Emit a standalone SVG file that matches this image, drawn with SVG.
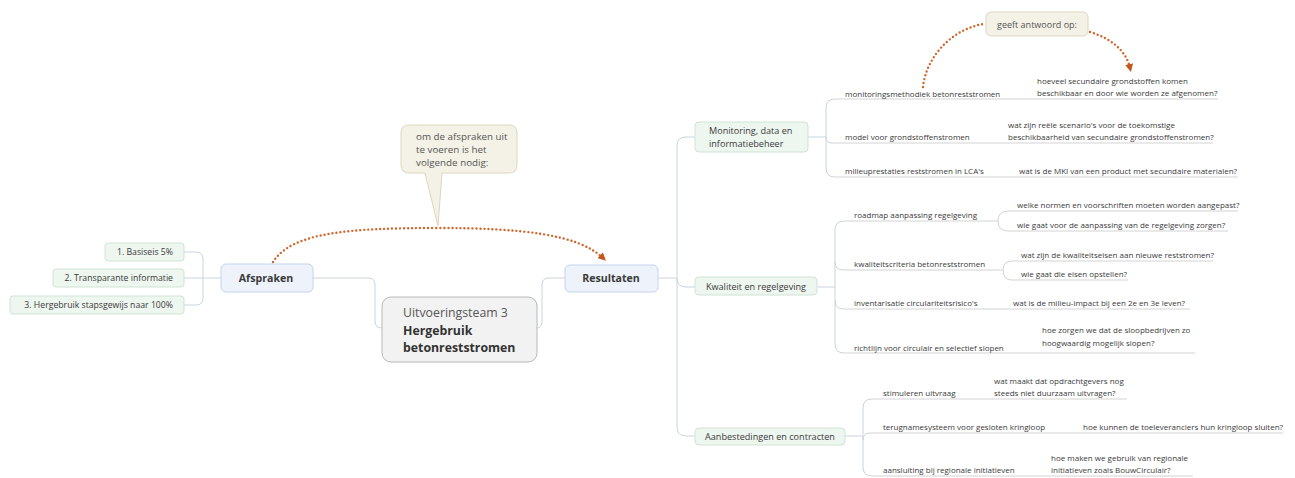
<svg xmlns="http://www.w3.org/2000/svg" width="1295" height="478" viewBox="0 0 1295 478">
<defs>
<marker id="arr" markerWidth="8" markerHeight="8" refX="4" refY="4" orient="auto" markerUnits="userSpaceOnUse">
<path d="M0,0 L8,4 L0,8 Z" fill="#c4561c"/>
</marker>
<style>
text{font-family:"Open Sans","Noto Sans",sans-serif;fill:#3a3a3a}
.s{font-size:8px}
.l{font-size:8.7px}
.m{font-size:9.1px}
.b{font-size:10.6px;font-weight:bold}
.c{font-size:9.8px;fill:#555}
.con{fill:none;stroke:#c9d4dc;stroke-width:1}
.ul{fill:none;stroke:#d3d3d3;stroke-width:1}
.dot{fill:none;stroke:#d0652a;stroke-width:2.4;stroke-dasharray:0 4;stroke-linecap:round}
.blue{fill:#eef3fb;stroke:#c4d3e8;stroke-width:1}
.green{fill:#eef6f0;stroke:#d0e3d5;stroke-width:1}
.call{fill:#f4f2e6;stroke:#dcd7bd;stroke-width:1}
</style>
</defs>
<rect width="1295" height="478" fill="#ffffff"/>
<g id="connectors">
<path class="con" d="M184,278 H221 M184,252 H196 Q203,252 203,259 V298 Q203,305 196,305 H184"/>
<path class="con" d="M313,278 H368 Q375,278 375,285 V321 Q375,328 382,328"/>
<path class="con" d="M537,328 Q542,328 542,321 V285 Q542,278 549,278 H565"/>
<path class="con" d="M658,278 H677 M695,137 H686 Q677,137 677,146 V427 Q677,436 686,436 H695 M677,278 Q677,287 686,287 H695"/>
<path class="con" d="M808,137 H826 M835,99 Q826,99 826,108 V168 Q826,177 835,177 M826,137 Q826,143 832,143"/>
<path class="ul" d="M835,99 H1218 M832,143 H1213 M835,177 H1238"/>
<path class="con" d="M817,287 H835 M844,221 Q835,221 835,230 V344 Q835,353 844,353 M835,262 Q835,270 843,270 M835,300 Q835,309 843,309"/>
<path class="ul" d="M844,221 H998 M1008,211 Q998,211 998,221 Q998,231 1008,231 M1008,211 H1238 M1008,231 H1228"/>
<path class="ul" d="M843,270 H1003 M1012,261 Q1003,261 1003,270 Q1003,280 1012,280 M1012,261 H1213 M1012,280 H1128"/>
<path class="ul" d="M843,309 H1190 M844,353 H1195"/>
<path class="con" d="M845,436 H863 M872,399 Q863,399 863,408 V467 Q863,476 872,476 M863,440 Q863,433 870,433"/>
<path class="ul" d="M872,399 H1127 M870,433 H1283 M872,476 H1193"/>
<path class="dot" d="M273,262 C292,232 350,228 438,228 C520,228 578,234 603,258" marker-end="url(#arr)"/>
<path class="dot" d="M923,87 C926,58 950,30 983,24"/>
<path class="dot" d="M1090,32 C1110,38 1126,50 1130,68" marker-end="url(#arr)"/>
</g>
<g id="n-central">
<rect x="382" y="297" width="155" height="65" rx="9" fill="#f2f2f2" stroke="#b8b8b8"/>
<text x="403" y="317" style="font-size:12.3px;fill:#555">Uitvoeringsteam 3</text>
<text x="403" y="335" style="font-size:12.3px;font-weight:bold;fill:#333">Hergebruik</text>
<text x="403" y="352" style="font-size:12.3px;font-weight:bold;fill:#333">betonreststromen</text>
</g>
<g id="n-afspraken">
<rect class="blue" x="221" y="264" width="92" height="28" rx="5"/>
<text class="b" x="266" y="282" text-anchor="middle">Afspraken</text>
</g>
<g id="n-resultaten">
<rect class="blue" x="565" y="265" width="93" height="27" rx="5"/>
<text class="b" x="611" y="282" text-anchor="middle">Resultaten</text>
</g>
<g id="n-a1">
<rect class="green" x="105" y="243" width="79" height="18" rx="3"/>
<text class="l" x="173" y="255" text-anchor="end">1. Basiseis 5%</text>
</g>
<g id="n-a2">
<rect class="green" x="53" y="269" width="131" height="18" rx="3"/>
<text class="l" x="173" y="281" text-anchor="end">2. Transparante informatie</text>
</g>
<g id="n-a3">
<rect class="green" x="10" y="296" width="174" height="18" rx="3"/>
<text class="l" x="173" y="308" text-anchor="end">3. Hergebruik stapsgewijs naar 100%</text>
</g>
<g id="callout-1">
<path class="call" d="M409,125 H509 Q517,125 517,133 V165 Q517,173 509,173 H442 L438,226 L425,173 H409 Q401,173 401,165 V133 Q401,125 409,125 Z"/>
<text class="c" x="416" y="140">om de afspraken uit</text>
<text class="c" x="416" y="153">te voeren is het</text>
<text class="c" x="416" y="166">volgende nodig:</text>
</g>
<g id="callout-2">
<rect class="call" x="986" y="12" width="102" height="24" rx="5"/>
<text class="c" x="1037" y="28" text-anchor="middle" style="font-size:9px">geeft antwoord op:</text>
</g>
<g id="n-monitoring">
<rect class="green" x="695" y="122" width="113" height="30" rx="4"/>
<text class="m" x="709" y="134">Monitoring, data en</text>
<text class="m" x="709" y="147">informatiebeheer</text>
</g>
<g id="n-kwaliteit">
<rect class="green" x="695" y="277" width="122" height="18" rx="4"/>
<text class="m" x="756" y="290" text-anchor="middle">Kwaliteit en regelgeving</text>
</g>
<g id="n-aanbesteding">
<rect class="green" x="695" y="428" width="150" height="17" rx="4"/>
<text class="m" x="770" y="440" text-anchor="middle">Aanbestedingen en contracten</text>
</g>
<g id="n-m1"><text class="s" x="845" y="97">monitoringsmethodiek betonreststromen</text></g>
<g id="n-m1a"><text class="s" x="1037" y="84">hoeveel secundaire grondstoffen komen</text><text class="s" x="1037" y="96">beschikbaar en door wie worden ze afgenomen?</text></g>
<g id="n-m2"><text class="s" x="845" y="140">model voor grondstoffenstromen</text></g>
<g id="n-m2a"><text class="s" x="1008" y="128">wat zijn reële scenario's voor de toekomstige</text><text class="s" x="1008" y="140">beschikbaarheid van secundaire grondstoffenstromen?</text></g>
<g id="n-m3"><text class="s" x="845" y="174">milieuprestaties reststromen in LCA's</text></g>
<g id="n-m3a"><text class="s" x="1019" y="174">wat is de MKI van een product met secundaire materialen?</text></g>
<g id="n-k1"><text class="s" x="854" y="218">roadmap aanpassing regelgeving</text></g>
<g id="n-k1a"><text class="s" x="1017" y="208">welke normen en voorschriften moeten worden aangepast?</text></g>
<g id="n-k1b"><text class="s" x="1017" y="228">wie gaat voor de aanpassing van de regelgeving zorgen?</text></g>
<g id="n-k2"><text class="s" x="854" y="267">kwaliteitscriteria betonreststromen</text></g>
<g id="n-k2a"><text class="s" x="1021" y="258">wat zijn de kwaliteitseisen aan nieuwe reststromen?</text></g>
<g id="n-k2b"><text class="s" x="1021" y="277">wie gaat die eisen opstellen?</text></g>
<g id="n-k3"><text class="s" x="854" y="306">inventarisatie circulariteitsrisico's</text></g>
<g id="n-k3a"><text class="s" x="1013" y="306">wat is de milieu-impact bij een 2e en 3e leven?</text></g>
<g id="n-k4"><text class="s" x="854" y="351">richtlijn voor circulair en selectief slopen</text></g>
<g id="n-k4a"><text class="s" x="1042" y="333">hoe zorgen we dat de sloopbedrijven zo</text><text class="s" x="1042" y="346">hoogwaardig mogelijk slopen?</text></g>
<g id="n-c1"><text class="s" x="883" y="396">stimuleren uitvraag</text></g>
<g id="n-c1a"><text class="s" x="994" y="384">wat maakt dat opdrachtgevers nog</text><text class="s" x="994" y="396">steeds niet duurzaam uitvragen?</text></g>
<g id="n-c2"><text class="s" x="883" y="430">terugnamesysteem voor gesloten kringloop</text></g>
<g id="n-c2a"><text class="s" x="1083" y="430">hoe kunnen de toeleveranciers hun kringloop sluiten?</text></g>
<g id="n-c3"><text class="s" x="883" y="473">aansluiting bij regionale initiatieven</text></g>
<g id="n-c3a"><text class="s" x="1051" y="461">hoe maken we gebruik van regionale</text><text class="s" x="1051" y="473">initiatieven zoals BouwCirculair?</text></g>
</svg>
